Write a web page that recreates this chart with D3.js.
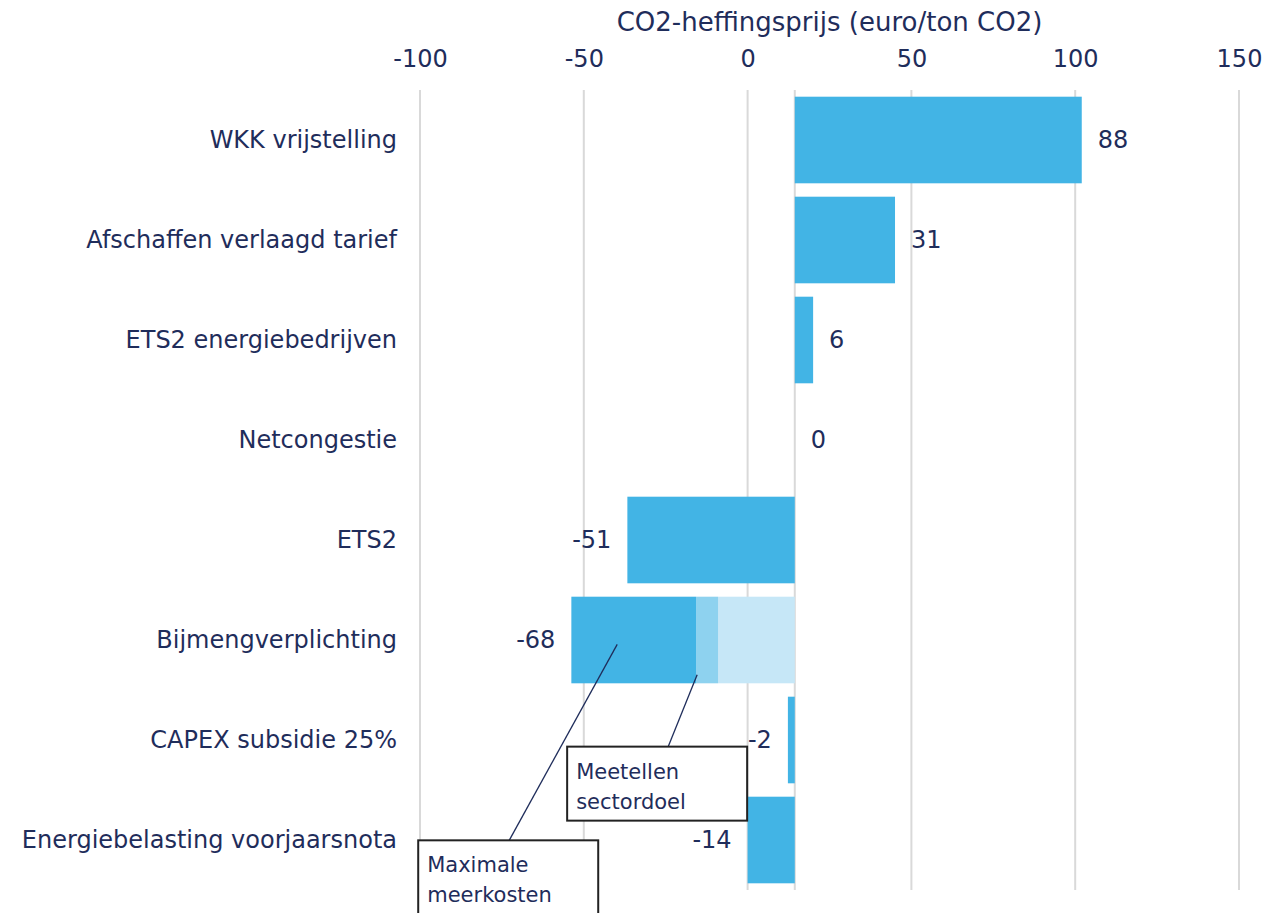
<!DOCTYPE html>
<html>
<head>
<meta charset="utf-8">
<script src="https://cdn.jsdelivr.net/npm/d3@7"></script>
<style>
  body { margin: 0; background: #fff; }
  text { font-family: "DejaVu Sans", Verdana, sans-serif; fill: #1f2d5b; }
</style>
</head>
<body>
<div id="chart"></div>
<script>
// chart size
const FRAME_WIDTH = 1284;
const FRAME_HEIGHT = 913;

// data
const categories = ["WKK vrijstelling", "Afschaffen verlaagd tarief", "ETS2 energiebedrijven",
                    "Netcongestie", "ETS2", "Bijmengverplichting", "CAPEX subsidie 25%",
                    "Energiebelasting voorjaarsnota"];
const baseValue = 14.4;
const effects = [87.6, 30.6, 5.6, 0, -51.1, -68.2, -2.1, -14.4];
// Bijmengverplichting split into parts, from the base line outwards
const bijmengParts = [-23.4, -6.7, -38.1];
const bijmengColors = ["#c6e7f7", "#8ed2ef", "#42b4e5"];
const tickValues = [-100, -50, 0, 50, 100, 150];
const axisTitle = "CO2-heffingsprijs (euro/ton CO2)";
const annotations = [
  {lines: ["Meetellen", "sectordoel"], category: "Bijmengverplichting", value: -15.4, fy: 0.9,
   dx: -130, dy: 72, w: 180, h: 74, lineX: 101},
  {lines: ["Maximale", "meerkosten"], category: "Bijmengverplichting", value: -39.8, fy: 0.55,
   dx: -199, dy: 196, w: 180, h: 90, lineX: 91}
];

const BAR_COLOR = "#42b4e5";

const svg = d3.select("#chart").append("svg")
  .attr("width", FRAME_WIDTH)
  .attr("height", FRAME_HEIGHT);

const xScale = d3.scaleLinear().domain([-100, 150]).range([420, 1239]);
const yScale = d3.scaleBand().domain(categories).range([90, 890])
  .paddingInner(0.134).paddingOuter(0.067);

// gridlines
svg.selectAll(".grid")
  .data(tickValues.concat([baseValue]))
  .enter().append("line")
    .attr("x1", d => xScale(d)).attr("x2", d => xScale(d))
    .attr("y1", 90).attr("y2", 890)
    .attr("stroke", "#d9d9d9").attr("stroke-width", 2);

// top axis
const axis = svg.append("g")
  .attr("transform", "translate(0,67)")
  .call(d3.axisTop(xScale).tickValues(tickValues).tickSize(0).tickPadding(0)
    .tickFormat(d => String(d)));
axis.select(".domain").remove();
axis.selectAll("text")
  .attr("font-size", "24px")
  .style("font-family", "DejaVu Sans, Verdana, sans-serif")
  .style("fill", "#1f2d5b");

svg.append("text")
  .attr("x", (xScale(-100) + xScale(150)) / 2)
  .attr("y", 31)
  .attr("text-anchor", "middle")
  .attr("font-size", "26px")
  .text(axisTitle);

// bar segments
const segments = [];
categories.forEach((c, i) => {
  if (c === "Bijmengverplichting") {
    let start = baseValue;
    bijmengParts.forEach((p, j) => {
      segments.push({cat: c, from: start, to: start + p, color: bijmengColors[j]});
      start += p;
    });
  } else if (effects[i] !== 0) {
    segments.push({cat: c, from: baseValue, to: baseValue + effects[i], color: BAR_COLOR});
  }
});

svg.selectAll(".bar")
  .data(segments)
  .enter().append("rect")
    .attr("x", d => xScale(Math.min(d.from, d.to)))
    .attr("y", d => yScale(d.cat))
    .attr("width", d => Math.abs(xScale(d.to) - xScale(d.from)))
    .attr("height", yScale.bandwidth())
    .attr("fill", d => d.color);

// category labels
svg.selectAll(".cat")
  .data(categories)
  .enter().append("text")
    .attr("x", 397)
    .attr("y", d => yScale(d) + yScale.bandwidth() / 2)
    .attr("dy", "0.35em")
    .attr("text-anchor", "end")
    .attr("font-size", "24px")
    .text(d => d);

// value labels
svg.selectAll(".val")
  .data(effects)
  .enter().append("text")
    .attr("x", d => d >= 0 ? xScale(baseValue + d) + 16 : xScale(baseValue + d) - 16)
    .attr("y", (d, i) => yScale(categories[i]) + yScale.bandwidth() / 2)
    .attr("dy", "0.35em")
    .attr("text-anchor", d => d >= 0 ? "start" : "end")
    .attr("font-size", "24px")
    .text(d => Math.round(d));

// annotations
annotations.forEach(a => {
  const ax = xScale(a.value);
  const ay = yScale(a.category) + yScale.bandwidth() * a.fy;
  const bx = ax + a.dx, by = ay + a.dy;
  svg.append("line")
    .attr("x1", bx + a.lineX).attr("y1", by)
    .attr("x2", ax).attr("y2", ay)
    .attr("stroke", "#1f2d5b").attr("stroke-width", 1.3);
  svg.append("rect")
    .attr("x", bx).attr("y", by)
    .attr("width", a.w).attr("height", a.h)
    .attr("fill", "#fff").attr("stroke", "#222").attr("stroke-width", 2);
  a.lines.forEach((t, k) => {
    svg.append("text")
      .attr("x", bx + 9)
      .attr("y", by + 32 + k * 30)
      .attr("font-size", "21px")
      .text(t);
  });
});
</script>
</body>
</html>
